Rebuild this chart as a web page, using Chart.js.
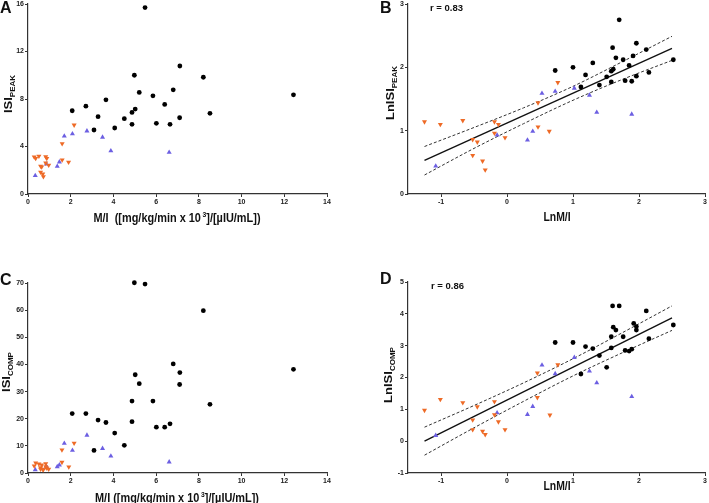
<!DOCTYPE html>
<html>
<head>
<meta charset="utf-8">
<script src="https://cdn.jsdelivr.net/npm/chart.js@4.4.0/dist/chart.umd.min.js"></script>
<style>
  html, body { margin: 0; padding: 0; background: #fff; }
  #wrap { position: relative; width: 709px; height: 503px; overflow: hidden; font-family: 'Liberation Sans', Arial, sans-serif; color: #111; }
  canvas { position: absolute; left: 0; top: 0; }
  .lbl { position: absolute; font-weight: bold; white-space: nowrap; }
  .panel { font-size: 16px; line-height: 16px; }
  .r { font-size: 9.5px; line-height: 9.5px; }
  .xt { font-size: 13px; line-height: 13px; transform: translateX(-50%) scaleX(0.84); }
  .xs { font-size: 13px; line-height: 13px; transform: translateX(-50%) scaleX(0.8); }
  .yt { font-size: 13px; line-height: 13px; transform: translate(-50%, -50%) rotate(-90deg) scaleY(0.9); }
  sub { font-size: 8px; vertical-align: -3px; line-height: 0; }
  sup { font-size: 8px; vertical-align: 5px; line-height: 0; margin-left: 2px; }
</style>
</head>
<body>
<div id="wrap">
  <canvas id="chartA" width="709" height="503"></canvas>
  <canvas id="chartB" width="709" height="503"></canvas>
  <canvas id="chartC" width="709" height="503"></canvas>
  <canvas id="chartD" width="709" height="503"></canvas>

  <div class="lbl panel" style="left:0px; top:0px">A</div>
  <div class="lbl panel" style="left:380px; top:0px">B</div>
  <div class="lbl panel" style="left:0px; top:272px">C</div>
  <div class="lbl panel" style="left:380px; top:271px">D</div>
  <div class="lbl r" style="left:430px; top:3px">r = 0.83</div>
  <div class="lbl r" style="left:431px; top:281px">r = 0.86</div>
  <div class="lbl xt" style="left:177px; top:211px">M/I&nbsp;&nbsp;([mg/kg/min x 10<sup>3</sup>]/[µIU/mL])</div>
  <div class="lbl xs" style="left:557px; top:210px">LnM/I</div>
  <div class="lbl xt" style="left:177px; top:491px">M/I ([mg/kg/min x 10<sup>3</sup>]/[µIU/mL])</div>
  <div class="lbl xs" style="left:557px; top:479px">LnM/I</div>
  <div class="lbl yt" style="left:8px; top:94px">ISI<sub>PEAK</sub></div>
  <div class="lbl yt" style="left:390px; top:93px">LnISI<sub>PEAK</sub></div>
  <div class="lbl yt" style="left:6px; top:372px">ISI<sub>COMP</sub></div>
  <div class="lbl yt" style="left:388px; top:375px">LnISI<sub>COMP</sub></div>
</div>

<script>
// ---- data ----

// A: M/I vs ISI peak
const aBlackX = [5.48, 7.11, 4.98, 8.21, 5.21, 6.80, 5.85, 12.43, 3.65, 2.71, 6.40, 2.07, 5.02, 4.87, 8.52, 3.28, 4.51, 6.01, 4.87, 6.65, 7.10, 4.06, 3.09];
const aBlackY = [15.7, 10.78, 10.0, 9.83, 8.55, 8.77, 8.27, 8.35, 7.93, 7.40, 7.54, 7.01, 7.15, 6.87, 6.79, 6.51, 6.34, 5.95, 5.87, 5.87, 6.42, 5.56, 5.39];
const aOrangeX = [0.29, 0.36, 0.51, 0.59, 0.64, 0.59, 0.69, 0.72, 0.83, 0.88, 0.83, 0.97, 1.60, 1.60, 1.90, 2.16];
const aOrangeY = [3.12, 3.00, 3.19, 2.35, 2.28, 1.84, 1.68, 1.46, 3.14, 3.00, 2.61, 2.43, 4.24, 2.87, 2.68, 5.81];
const aBlueX = [0.34, 0.86, 1.37, 1.47, 1.70, 2.08, 2.76, 3.49, 3.88, 6.61];
const aBlueY = [1.55, 2.53, 2.33, 2.70, 4.88, 5.06, 5.31, 4.78, 3.64, 3.51];

// B: LnM/I vs LnISI peak
const bBlackX = [1.70, 0.73, 1.00, 1.19, 1.30, 1.12, 1.40, 1.51, 1.60, 1.65, 1.58, 1.61, 1.58, 1.76, 1.79, 1.89, 1.85, 1.91, 1.96, 1.96, 2.11, 2.15, 2.52];
const bBlackY = [2.75, 1.95, 2.00, 1.88, 2.07, 1.69, 1.72, 1.85, 2.31, 2.15, 1.94, 1.97, 1.77, 2.12, 1.79, 1.78, 2.03, 2.18, 2.38, 1.86, 2.28, 1.92, 2.12];
const bOrangeX = [-1.25, -1.01, -0.67, -0.52, -0.45, -0.52, -0.37, -0.33, -0.19, -0.13, -0.19, -0.03, 0.47, 0.47, 0.64, 0.77];
const bOrangeY = [1.14, 1.10, 1.16, 0.86, 0.82, 0.61, 0.52, 0.38, 1.14, 1.10, 0.96, 0.89, 1.44, 1.06, 0.99, 1.76];
const bBlueX = [-1.08, -0.15, 0.31, 0.39, 0.53, 0.73, 1.02, 1.25, 1.36, 1.89];
const bBlueY = [0.44, 0.93, 0.85, 0.99, 1.59, 1.62, 1.67, 1.56, 1.29, 1.26];
const bFitX = [-1.25, 2.5];
const bFitY = [0.53, 2.30];
const bandX = [-1.25, -0.5, 0.25, 1.0, 1.75, 2.5];
const bUpper = [0.75, 1.05, 1.36, 1.70, 2.09, 2.49];
const bLower = [0.30, 0.72, 1.11, 1.48, 1.81, 2.11];

// C: M/I vs ISI composite
const cBlackX = [4.98, 5.48, 8.21, 6.80, 12.43, 7.11, 5.02, 5.21, 7.10, 4.87, 5.85, 8.52, 2.07, 2.71, 3.28, 3.65, 4.87, 6.65, 6.01, 6.40, 4.06, 4.51, 3.09];
const cBlackY = [70.1, 69.6, 59.8, 40.2, 38.2, 37.0, 36.2, 32.9, 32.6, 26.5, 26.5, 25.3, 21.9, 21.9, 19.5, 18.6, 18.9, 18.1, 16.9, 16.9, 14.7, 10.2, 8.3];
const cOrangeX = [0.29, 0.36, 0.51, 0.64, 0.59, 0.59, 0.69, 0.72, 0.83, 0.83, 0.88, 0.97, 1.59, 1.59, 1.91, 2.16];
const cOrangeY = [2.64, 3.71, 3.35, 2.94, 1.95, 1.43, 1.36, 1.23, 3.46, 2.29, 1.84, 1.43, 8.50, 3.94, 2.27, 11.0];
const cBlueX = [0.34, 0.86, 1.37, 1.47, 1.70, 2.08, 2.76, 3.49, 3.88, 6.61];
const cBlueY = [1.20, 2.44, 2.32, 2.97, 10.9, 8.33, 13.9, 9.03, 6.23, 4.06];

// D: LnM/I vs LnISI composite
const dBlackX = [0.73, 1.00, 1.19, 1.30, 1.12, 1.40, 1.51, 1.60, 1.70, 1.61, 1.65, 1.58, 1.58, 1.76, 1.79, 1.85, 1.89, 1.92, 1.96, 1.96, 2.11, 2.15, 2.52];
const dBlackY = [3.10, 3.10, 2.97, 2.91, 2.11, 2.69, 2.32, 4.25, 4.25, 3.58, 3.49, 3.28, 2.93, 3.28, 2.85, 2.83, 2.89, 3.70, 3.60, 3.49, 4.09, 3.22, 3.65];
const dOrangeX = [-1.25, -1.01, -0.67, -0.45, -0.52, -0.52, -0.37, -0.33, -0.19, -0.19, -0.13, -0.03, 0.46, 0.46, 0.65, 0.77];
const dOrangeY = [0.97, 1.31, 1.21, 1.08, 0.67, 0.36, 0.31, 0.21, 1.24, 0.83, 0.61, 0.36, 2.14, 1.37, 0.82, 2.40];
const dBlueX = [-1.08, -0.15, 0.31, 0.39, 0.53, 0.73, 1.02, 1.25, 1.36, 1.89];
const dBlueY = [0.18, 0.89, 0.84, 1.09, 2.39, 2.12, 2.63, 2.20, 1.83, 1.40];
const dFitX = [-1.25, 2.5];
const dFitY = [0.0, 3.87];
const dUpper = [0.44, 1.12, 1.83, 2.59, 3.41, 4.25];
const dLower = [-0.44, 0.42, 1.25, 2.05, 2.78, 3.48];

// tick values
const mTicks = [0, 2, 4, 6, 8, 10, 12, 14];
const lnTicks = [-1, 0, 1, 2, 3];
const aTicks = [0, 4, 8, 12, 16];
const bTicks = [0, 1, 2, 3];
const cTicks = [0, 10, 20, 30, 40, 50, 60, 70];
const dTicks = [-1, 0, 1, 2, 3, 4, 5];

// ---- drawing ----
const W = 709, H = 503;
const YW = 24, XH = 12;
Chart.defaults.font.family = "'Liberation Sans', Arial, sans-serif";

function pts(xs, ys) {
    return xs.map((x, i) => ({ x: x, y: ys[i] }));
}

function axis(min, max, ticks, isX) {
    return {
        type: 'linear',
        min: min,
        max: max,
        grid: { display: true, drawOnChartArea: false, drawTicks: true, tickLength: 3, color: '#333', lineWidth: 1 },
        border: { display: true, color: '#333', width: 1.2 },
        ticks: { font: { size: 7, weight: 'bold' }, color: '#222', padding: 1, maxRotation: 0, autoSkip: false },
        afterBuildTicks: s => { s.ticks = ticks.map(v => ({ value: v })); },
        afterFit: s => {
            if (isX) {
                s.height = XH;
                s.paddingLeft = 0;
                s.paddingRight = 0;
            } else {
                s.width = YW;
                s.paddingTop = 0;
                s.paddingBottom = 0;
            }
        },
    };
}

function dots(data, kind) {
    const style = {
        black: { c: '#000', s: 'circle', r: 2.4, rot: 0 },
        orange: { c: '#ee6a26', s: 'triangle', r: 2.9, rot: 180 },
        blue: { c: '#6c5fe2', s: 'triangle', r: 2.9, rot: 0 },
    }[kind];
    return {
        data: data,
        pointStyle: style.s,
        pointRadius: style.r,
        rotation: style.rot,
        backgroundColor: style.c,
        borderColor: style.c,
        borderWidth: 0,
        clip: false,
        order: 0,
    };
}

function line(data, dashed) {
    return {
        data: data,
        showLine: true,
        pointRadius: 0,
        borderColor: dashed ? '#333' : '#111',
        borderWidth: dashed ? 1 : 1.4,
        borderDash: dashed ? [3, 2] : [],
        cubicInterpolationMode: 'monotone',
        fill: false,
        order: 1,
    };
}

function panel(id, area, xAx, yAx, datasets) {
    new Chart(document.getElementById(id), {
        type: 'scatter',
        data: { datasets: datasets },
        options: {
            responsive: false,
            animation: false,
            devicePixelRatio: 1,
            layout: {
                padding: { left: area[0] - YW, top: area[1], right: W - area[2], bottom: H - area[3] - XH },
            },
            plugins: { legend: { display: false }, tooltip: { enabled: false } },
            scales: { x: xAx, y: yAx },
        },
    });
}

panel('chartA', [28, 3, 327, 194], axis(0, 14, mTicks, true), axis(0, 16, aTicks, false), [
    dots(pts(aBlackX, aBlackY), 'black'),
    dots(pts(aOrangeX, aOrangeY), 'orange'),
    dots(pts(aBlueX, aBlueY), 'blue'),
]);

panel('chartB', [408, 3, 707, 194], axis(-1.5, 3, lnTicks, true), axis(0, 3, bTicks, false), [
    dots(pts(bBlackX, bBlackY), 'black'),
    dots(pts(bOrangeX, bOrangeY), 'orange'),
    dots(pts(bBlueX, bBlueY), 'blue'),
    line(pts(bFitX, bFitY), false),
    line(pts(bandX, bUpper), true),
    line(pts(bandX, bLower), true),
]);

panel('chartC', [28, 283, 327, 473], axis(0, 14, mTicks, true), axis(0, 70, cTicks, false), [
    dots(pts(cBlackX, cBlackY), 'black'),
    dots(pts(cOrangeX, cOrangeY), 'orange'),
    dots(pts(cBlueX, cBlueY), 'blue'),
]);

panel('chartD', [408, 282, 707, 473], axis(-1.5, 3, lnTicks, true), axis(-1, 5, dTicks, false), [
    dots(pts(dBlackX, dBlackY), 'black'),
    dots(pts(dOrangeX, dOrangeY), 'orange'),
    dots(pts(dBlueX, dBlueY), 'blue'),
    line(pts(dFitX, dFitY), false),
    line(pts(bandX, dUpper), true),
    line(pts(bandX, dLower), true),
]);
</script>
</body>
</html>
